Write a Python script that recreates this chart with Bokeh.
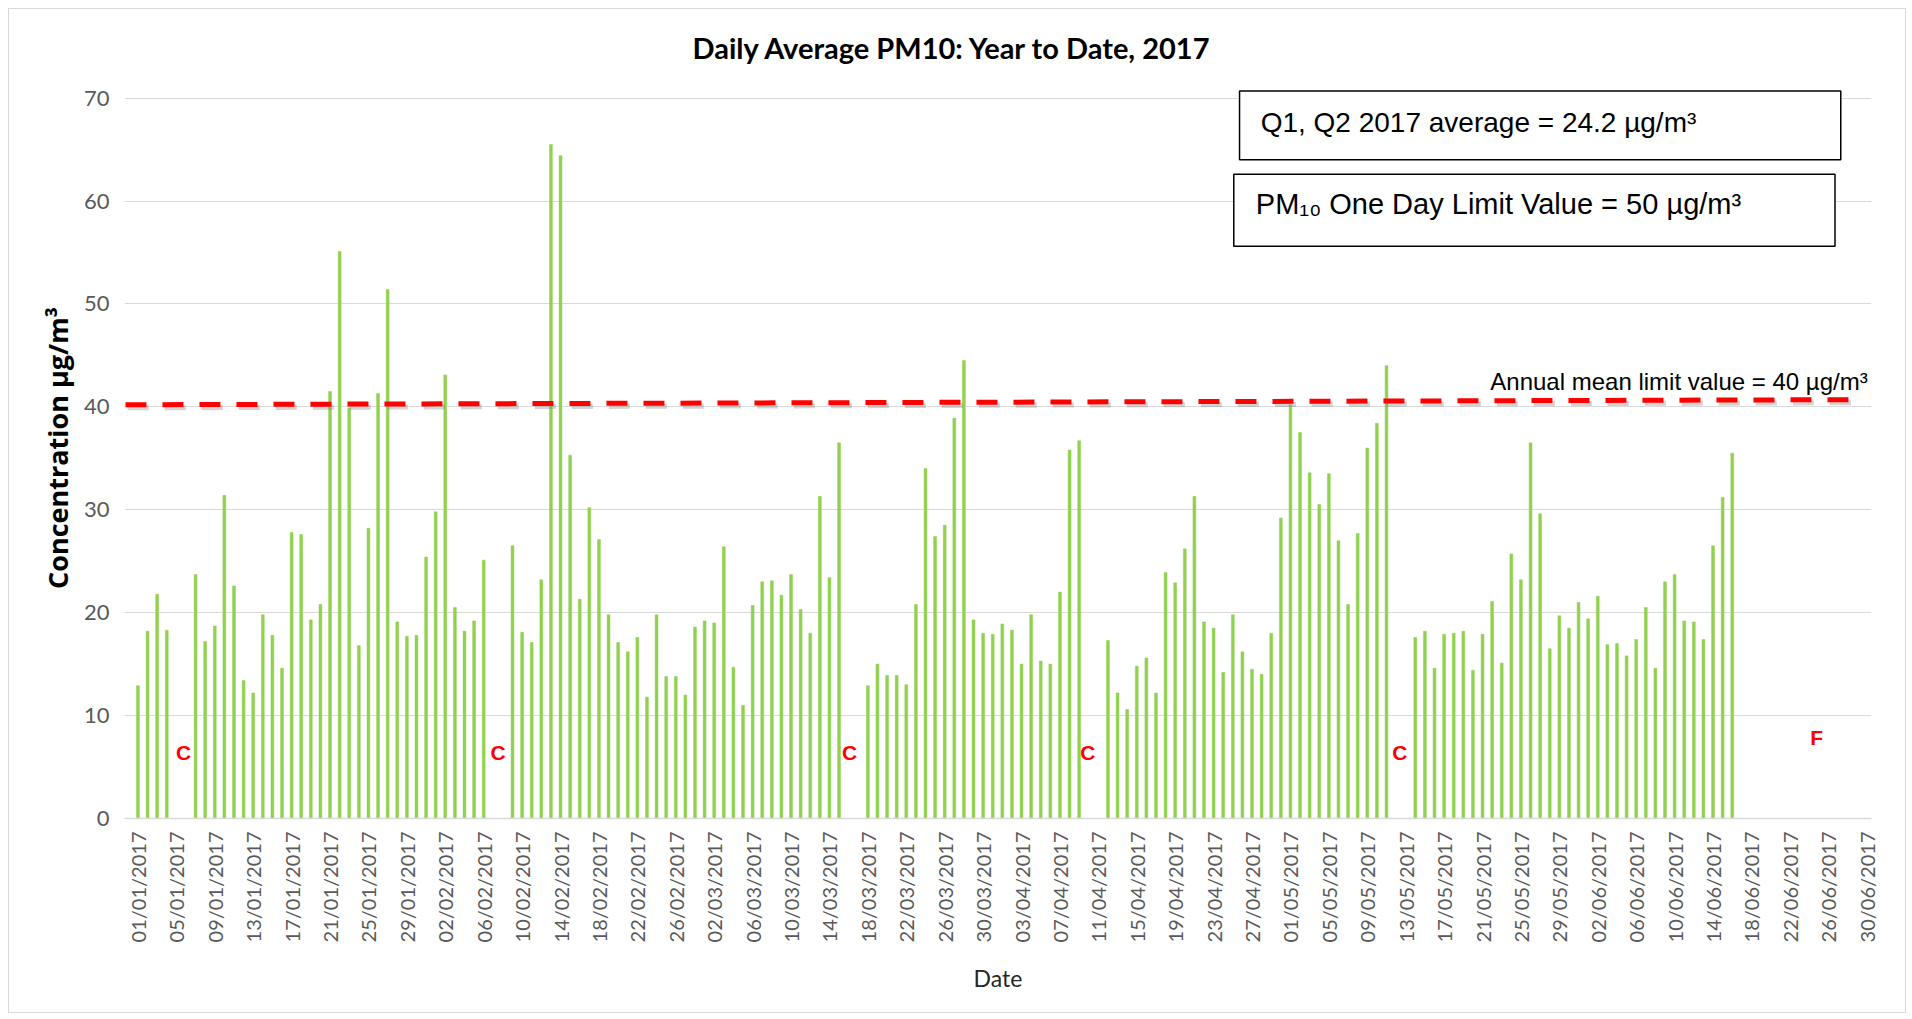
from datetime import date, timedelta
import math
from bokeh.plotting import figure
from bokeh.models import Range1d, FixedTicker, Label, ColumnDataSource
from bokeh.core.properties import value
from bokeh.embed import file_html
from bokeh.resources import INLINE

# ---------------- data (daily average PM10, µg/m³; None = no data) ----------------
start_date = date(2017, 1, 1)
jan = [12.9, 18.2, 21.8, 18.3, None, None, 23.7, 17.2, 18.7, 31.4, 22.6, 13.4, 12.2, 19.8, 17.8, 14.6,
       27.8, 27.6, 19.3, 20.8, 41.5, 55.1, 39.9, 16.8, 28.2, 41.3, 51.4, 19.1, 17.7, 17.8, 25.4]
feb = [29.8, 43.1, 20.5, 18.2, 19.2, 25.1, None, None, 26.5, 18.1, 17.1, 23.2, 65.5, 64.4, 35.3, 21.3,
       30.2, 27.1, 19.8, 17.1, 16.2, 17.6, 11.8, 19.8, 13.8, 13.8, 12.0, 18.6]
mar = [19.2, 19.0, 26.4, 14.7, 11.0, 20.7, 23.0, 23.1, 21.7, 23.7, 20.3, 18.0, 31.3, 23.4, 36.5, None,
       None, 12.9, 15.0, 13.9, 13.9, 13.0, 20.8, 34.0, 27.4, 28.5, 38.9, 44.5, 19.3, 18.0, 17.9]
apr = [18.9, 18.3, 15.0, 19.8, 15.3, 15.0, 22.0, 35.8, 36.7, None, None, 17.3, 12.2, 10.6, 14.8, 15.6,
       12.2, 23.9, 22.9, 26.2, 31.3, 19.1, 18.5, 14.2, 19.8, 16.2, 14.5, 14.0, 18.0, 29.2]
may = [40.2, 37.5, 33.6, 30.5, 33.5, 27.0, 20.8, 27.7, 36.0, 38.4, 44.0, None, None, 17.6, 18.2, 14.6,
       17.9, 18.0, 18.2, 14.4, 17.9, 21.1, 15.1, 25.7, 23.2, 36.5, 29.6, 16.5, 19.7, 18.5, 21.0]
jun = [19.4, 21.6, 16.9, 17.0, 15.8, 17.4, 20.5, 14.6, 23.0, 23.7, 19.2, 19.1, 17.4, 26.5, 31.2, 35.5,
       None, None, None, None, None, None, None, None, None, None, None, None, None, None]

daily_values = jan + feb + mar + apr + may + jun
date_labels = [(start_date + timedelta(days=i)).strftime("%d/%m/%Y") for i in range(len(daily_values))]
tick_days = list(range(0, len(daily_values), 4))
y_ticks = [0, 10, 20, 30, 40, 50, 60, 70]

# status flags (C = calibration gap, F = no data)
flag_days = [4.75, 37.5, 74.1, 98.9, 131.4, 174.8]
flag_text = ["C", "C", "C", "C", "C", "F"]
flag_level = [6.4, 6.4, 6.4, 6.4, 6.4, 7.9]

# annual mean limit value line (as drawn, slightly sloped)
limit_x = [-1.3, 179.5]
limit_y = [40.2, 40.7]

title_text = "Daily Average PM10: Year to Date, 2017"
avg_text = "Q1, Q2 2017 average = 24.2 µg/m³"
day_limit_text = "PM₁₀ One Day Limit Value = 50 µg/m³"
annual_text = "Annual mean limit value = 40 µg/m³"

# ---------------- figure ----------------
bar_x = [i for i, v in enumerate(daily_values) if v is not None]
bar_top = [v for v in daily_values if v is not None]
src = ColumnDataSource(dict(x=bar_x, top=bar_top))

p = figure(width=1898, height=1005,
           x_range=Range1d(-1.4, 180.5), y_range=Range1d(0, 72),
           output_backend="svg", toolbar_location=None,
           min_border_left=115, min_border_right=36,
           min_border_top=68, min_border_bottom=196,
           title=title_text)
p.styles = {"border": "1px solid #d9d9d9", "margin-left": "8px", "margin-top": "8px"}
p.outline_line_color = None
p.background_fill_color = "white"

p.title.align = "left"
p.title.offset = 568
p.title.standoff = 25
p.title.text_font = "Lato"
p.title.text_font_style = "bold"
p.title.text_font_size = "29px"
p.title.text_color = "black"

# grid
p.xgrid.grid_line_color = None
p.ygrid.ticker = FixedTicker(ticks=y_ticks)
p.ygrid.grid_line_color = "#d9d9d9"
p.ygrid.grid_line_width = 1

# y axis
p.yaxis.ticker = FixedTicker(ticks=y_ticks)
p.yaxis.axis_line_color = None
p.yaxis.major_tick_line_color = None
p.yaxis.minor_tick_line_color = None
p.yaxis.major_label_text_font = "Lato"
p.yaxis.major_label_text_font_size = "22px"
p.yaxis.major_label_text_color = "#595959"
p.yaxis.major_label_standoff = 9
p.yaxis.axis_label = "Concentration µg/m³"
p.yaxis.axis_label_text_font = "Open Sans"
p.yaxis.axis_label_text_font_style = "bold"
p.yaxis.axis_label_text_font_size = "27px"
p.yaxis.axis_label_text_color = "black"
p.yaxis.axis_label_standoff = 5

# x axis
p.xaxis.ticker = FixedTicker(ticks=tick_days)
p.xaxis.major_label_overrides = {d: date_labels[d] for d in tick_days}
p.xaxis.major_label_orientation = math.pi / 2
p.xaxis.axis_line_color = "#d9d9d9"
p.xaxis.axis_line_width = 1.5
p.xaxis.major_tick_line_color = None
p.xaxis.minor_tick_line_color = None
p.xaxis.major_label_text_font = "Lato"
p.xaxis.major_label_text_font_size = "20px"
p.xaxis.major_label_text_color = "#595959"
p.xaxis.major_label_standoff = 7
p.xaxis.axis_label = "Date"
p.xaxis.axis_label_text_font = "Lato"
p.xaxis.axis_label_text_font_style = "normal"
p.xaxis.axis_label_text_font_size = "23px"
p.xaxis.axis_label_text_color = "#262626"
p.xaxis.axis_label_standoff = 19

# bars
p.vbar(x="x", top="top", width=0.3, bottom=0, source=src,
       fill_color="#92d050", line_color="#92d050", line_width=0.5)

# annual mean limit line with soft shadow
p.line([x + 0.25 for x in limit_x], [y - 0.3 for y in limit_y], line_color="#808080", line_alpha=0.35,
       line_width=5, line_dash="21 16")
p.line(limit_x, limit_y, line_color="#ff0000", line_width=5, line_dash="21 16")

p.add_layout(Label(x=180.1, y=42.5, text=annual_text, text_align="right", text_baseline="alphabetic",
                   text_font="Liberation Sans", text_font_size="24px", text_color="black"))

# status flags
p.text(x=flag_days, y=flag_level, text=flag_text, text_color="#ff0000",
       text_font=value("Liberation Sans"), text_font_style="bold", text_font_size="21px",
       text_align="center", text_baseline="middle")

# text boxes
p.quad(left=[114.7, 114.1], right=[177.3, 176.7], bottom=[64.0, 55.6], top=[70.7, 62.6],
       fill_color="white", line_color="black", line_width=1.5)
p.add_layout(Label(x=116.9, y=67.6, text=avg_text, text_align="left", text_baseline="middle",
                   text_font="Liberation Sans", text_font_size="28px", text_color="black"))
p.add_layout(Label(x=116.4, y=59.7, text=day_limit_text, text_align="left", text_baseline="middle",
                   text_font="Liberation Sans", text_font_size="29px", text_color="black"))

open("out.html", "w").write(file_html(p, INLINE))
